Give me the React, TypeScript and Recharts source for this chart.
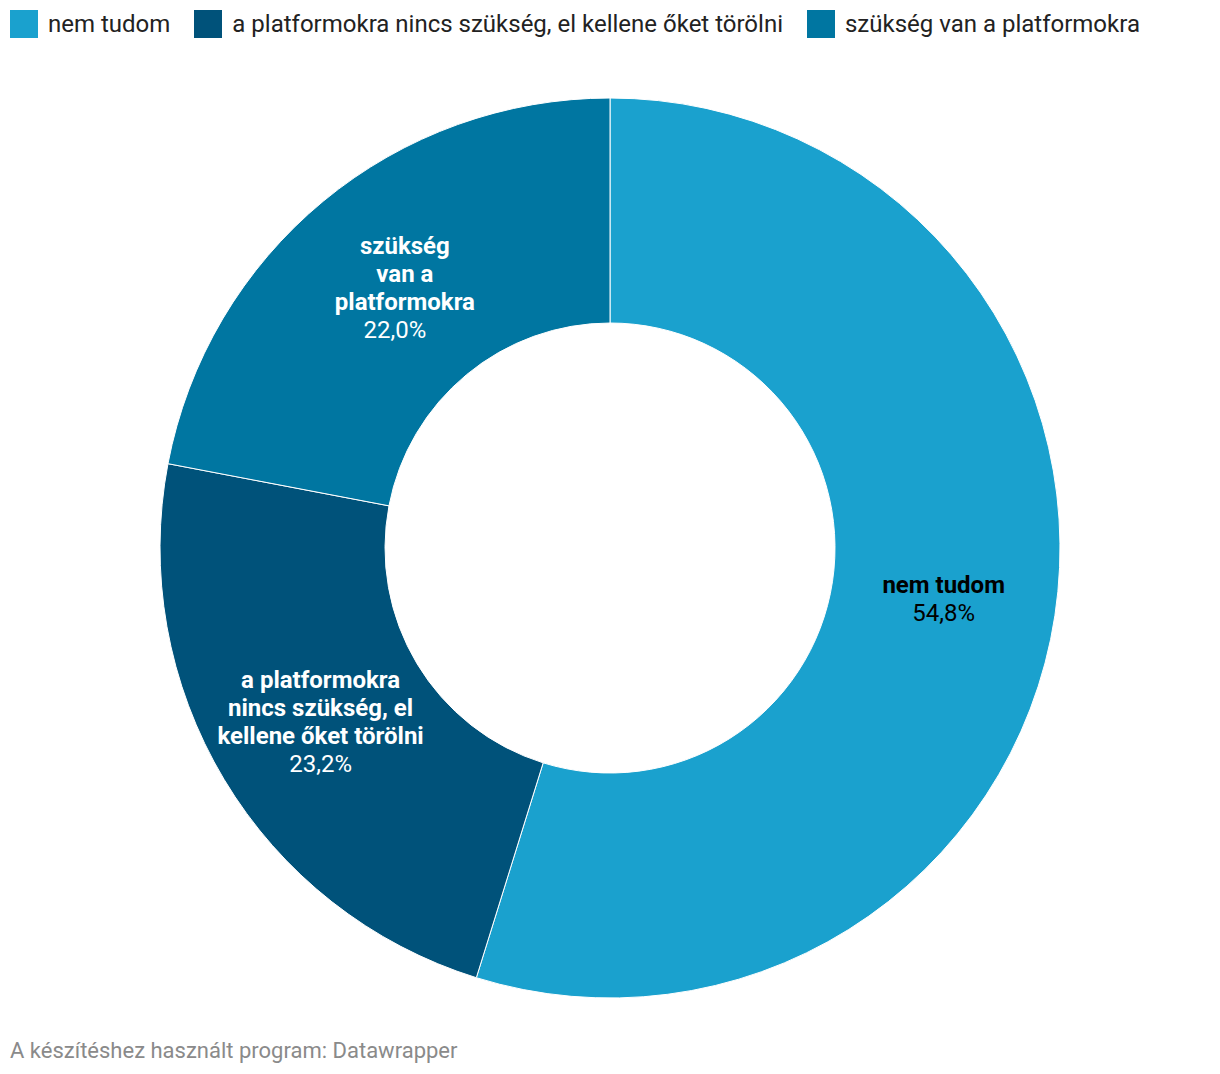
import { PieChart, Pie, Cell } from "recharts";

const categories = [
  "nem tudom",
  "a platformokra nincs szükség, el kellene őket törölni",
  "szükség van a platformokra",
];
const values = [54.8, 23.2, 22.0];
const sliceLines = [
  ["nem tudom"],
  ["a platformokra", "nincs szükség, el", "kellene őket törölni"],
  ["szükség", "van a", "platformokra"],
];
const colors = ["#1aa1ce", "#00527a", "#0076a1"];
const labelColors = ["#000000", "#ffffff", "#ffffff"];
// the original shifts the bold name lines of the last slice a bit to the right
const nameNudge = [0, 0, 10];

const data = categories.map((name, i) => ({ name, value: values[i] }));

const fmt = (v: number) => v.toFixed(1).replace(".", ",") + "%";

const RADIAN = Math.PI / 180;
const FONT = "Roboto, sans-serif";

function renderLabel(props: any) {
  const { cx, cy, midAngle, innerRadius, outerRadius, index, value } = props;
  const r = (innerRadius + outerRadius) / 2;
  const x = cx + r * Math.cos(-midAngle * RADIAN);
  const y = cy + r * Math.sin(-midAngle * RADIAN);
  const lines = sliceLines[index];
  const lh = 28;
  const total = lines.length + 1;
  const y0 = y - ((total - 1) * lh) / 2;
  const fill = labelColors[index];
  const nx = x + nameNudge[index];
  return (
    <text
      x={x}
      y={y0}
      textAnchor="middle"
      dominantBaseline="central"
      fill={fill}
      fontFamily={FONT}
      fontSize={24}
    >
      {lines.map((l, i) => (
        <tspan key={i} x={nx} y={y0 + i * lh} fontWeight="bold">
          {l}
        </tspan>
      ))}
      <tspan x={x} y={y0 + lines.length * lh}>
        {fmt(value)}
      </tspan>
    </text>
  );
}

function LegendRow() {
  return (
    <div
      style={{
        position: "absolute",
        left: 10,
        top: 10,
        display: "flex",
        alignItems: "center",
        fontFamily: FONT,
        fontSize: 24,
        color: "#222",
        whiteSpace: "nowrap",
      }}
    >
      {categories.map((c, i) => (
        <div key={c} style={{ display: "flex", alignItems: "center", marginRight: 24 }}>
          <span style={{ display: "inline-block", width: 28, height: 28, background: colors[i], marginRight: 10 }} />
          <span>{c}</span>
        </div>
      ))}
    </div>
  );
}

export default function App() {
  return (
    <div style={{ position: "absolute", left: 0, top: 0, width: 1220, height: 1074, background: "#fff" }}>
      <PieChart width={1220} height={1074} margin={{ top: 0, right: 0, bottom: 0, left: 0 }}>
        <Pie
          data={data}
          dataKey="value"
          nameKey="name"
          cx={610}
          cy={548}
          innerRadius={225}
          outerRadius={450}
          startAngle={90}
          endAngle={-270}
          stroke="#ffffff"
          strokeWidth={1}
          label={renderLabel}
          labelLine={false}
          isAnimationActive={false}
        >
          {data.map((d, i) => (
            <Cell key={d.name} fill={colors[i]} />
          ))}
        </Pie>
      </PieChart>
      <LegendRow />
      <div
        style={{
          position: "absolute",
          left: 10,
          top: 1038,
          fontFamily: FONT,
          fontSize: 22,
          color: "#8a8a8a",
        }}
      >
        A készítéshez használt program: Datawrapper
      </div>
    </div>
  );
}
